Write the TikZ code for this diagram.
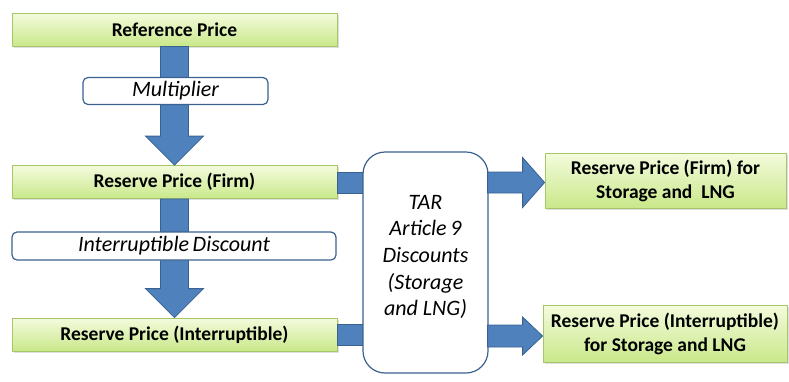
\documentclass[tikz,border=0pt]{standalone}
\usepackage{fontspec}
\setmainfont{Carlito}
\usetikzlibrary{calc,shadows}
\definecolor{gtop}{HTML}{F4FBDD}
\definecolor{gbot}{HTML}{C9E88A}
\definecolor{gline}{HTML}{A5C76A}
\definecolor{bfill}{HTML}{4F81BD}
\definecolor{bline}{HTML}{3A6190}
\begin{document}
\begin{tikzpicture}[x=1pt,y=-1pt,
  greenbox/.style={draw=gline, line width=0.8pt, top color=gtop, bottom color=gbot,
    minimum height=#1, inner sep=0pt, align=center,
    font=\fontsize{19.5}{23}\selectfont\bfseries,
    drop shadow={opacity=0.25, shadow xshift=1.5pt, shadow yshift=-1.5pt}},
  greenbox/.default=33pt,
  whitebox/.style={draw=bline, line width=1.2pt, fill=white, rounded corners=5pt,
    inner sep=0pt, align=center, font=\fontsize{22}{24}\selectfont\itshape},
  blockarrow/.style={draw=bline, line width=0.8pt, fill=bfill}]
\useasboundingbox (0,0) rectangle (789,381);

% nodes
\node[greenbox, minimum width=325pt] (ref) at (174.5,29.5) {Reference Price};
\node[greenbox, minimum width=325pt] (firm) at (174.5,182) {Reserve Price (Firm)};
\node[greenbox, minimum width=325pt] (intr) at (174.5,334.5) {Reserve Price (Interruptible)};
\node[greenbox=55pt, minimum width=241pt, font=\fontsize{19.5}{24}\selectfont\bfseries] (rf) at (665.5,180.5) {Reserve Price (Firm) for\\Storage and\ \ LNG};
\node[greenbox=57pt, minimum width=244pt, font=\fontsize{19.5}{24}\selectfont\bfseries] (ri) at (665,333.5) {Reserve Price (Interruptible)\\for Storage and LNG};

% arrows behind boxes
\coordinate (a1s) at (ref.south);
\coordinate (a1e) at (firm.north);
\draw[blockarrow] ($(a1s)+(-14,0)$) -- ($(a1e)+(-14,-29)$) -- ($(a1e)+(-29,-29)$) -- (a1e)
  -- ($(a1e)+(29,-29)$) -- ($(a1e)+(14,-29)$) -- ($(a1s)+(14,0)$) -- cycle;
\coordinate (a2s) at (firm.south);
\coordinate (a2e) at (intr.north);
\draw[blockarrow] ($(a2s)+(-14,0)$) -- ($(a2e)+(-14,-29)$) -- ($(a2e)+(-29,-29)$) -- (a2e)
  -- ($(a2e)+(29,-29)$) -- ($(a2e)+(14,-29)$) -- ($(a2s)+(14,0)$) -- cycle;

\node[whitebox, minimum width=185pt, minimum height=27pt] (mult) at (175.5,91) {Multiplier};
\node[whitebox, minimum width=324pt, minimum height=28pt] (intd) at (174,246) {Interruptible\,Discount};

% TAR box bars (behind)
\coordinate (tl) at (363,183);
\coordinate (bl) at (363,335);
\draw[blockarrow] ($(firm.east)+(0,-10)$) rectangle ($(tl)+(2,10)$);
\draw[blockarrow] ($(intr.east)+(0,-10)$) rectangle ($(bl)+(2,10)$);

\node[whitebox, rounded corners=22pt, minimum width=125pt, minimum height=221pt,
  font=\fontsize{22}{26.7}\selectfont\itshape, text depth=14pt] (tar) at (425.5,262.5)
  {TAR\\Article\,9\\Discounts\\(Storage\\and LNG)};

% right arrows
\coordinate (r1s) at (tar.east |- 0,182.5);
\coordinate (r1e) at (rf.west |- 0,182.5);
\draw[blockarrow] ($(r1s)+(-1,-10.5)$) -- ($(r1e)+(-22,-10.5)$) -- ($(r1e)+(-22,-25)$) -- (r1e)
  -- ($(r1e)+(-22,25)$) -- ($(r1e)+(-22,10.5)$) -- ($(r1s)+(-1,10.5)$) -- cycle;
\coordinate (r2s) at (tar.east |- 0,336);
\coordinate (r2e) at (ri.west |- 0,336);
\draw[blockarrow] ($(r2s)+(-1,-11)$) -- ($(r2e)+(-20,-11)$) -- ($(r2e)+(-20,-19)$) -- (r2e)
  -- ($(r2e)+(-20,19)$) -- ($(r2e)+(-20,11)$) -- ($(r2s)+(-1,11)$) -- cycle;
\end{tikzpicture}
\end{document}
